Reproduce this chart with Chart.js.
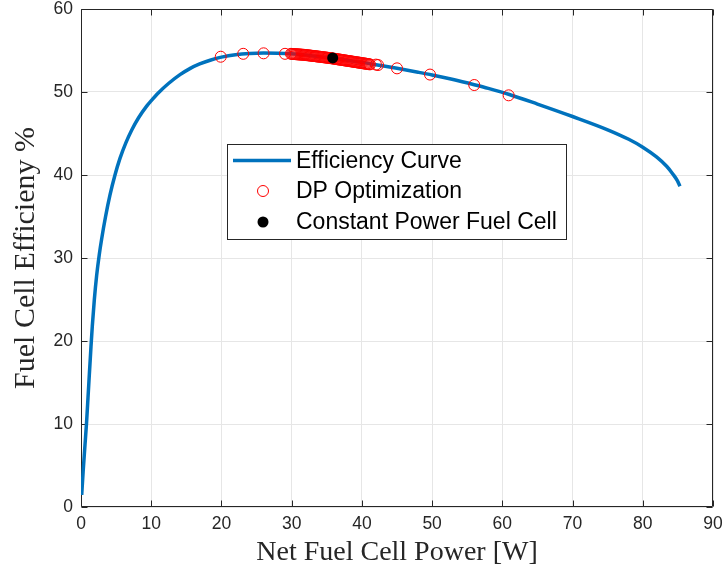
<!DOCTYPE html>
<html>
<head>
<meta charset="utf-8">
<script src="https://cdn.jsdelivr.net/npm/chart.js@4"></script>
<style>
  html, body { margin: 0; padding: 0; background: #ffffff; }
  #wrap { width: 726px; height: 575px; }
</style>
</head>
<body>
<div id="wrap"><canvas id="c" width="726" height="575"></canvas></div>
<script>
// Efficiency curve of the fuel cell: net power [W] vs efficiency [%]
const curvePower = [0.1, 0.3, 0.57, 0.8, 1.0, 1.19, 1.4, 1.61, 1.9, 2.23, 2.6, 2.94, 3.5, 4.13, 4.84, 5.55, 6.4, 7.21, 8.2, 9.35,
  10.0, 11.0, 12.5, 14.1, 15.5, 16.9, 18.5, 20, 22, 24, 26, 28, 30, 32, 34, 36, 38, 40, 42, 45,
  48, 50, 53, 56, 58, 61, 65, 70, 75, 78, 80, 82, 83.4, 84.3, 84.9, 85.3];
const curveEff = [1.45, 4.2, 7.5, 10.3, 13.2, 16.0, 19.0, 21.8, 25.0, 27.9, 30.4, 32.3, 35.0, 37.6, 40.0, 42.0, 43.9, 45.4, 46.9, 48.3,
  48.95, 49.88, 51.05, 52.09, 52.82, 53.38, 53.86, 54.2, 54.5, 54.65, 54.7, 54.68, 54.6, 54.45, 54.25, 54.05, 53.8, 53.57, 53.28, 52.85,
  52.38, 52.05, 51.5, 50.88, 50.44, 49.7, 48.55, 47.05, 45.45, 44.3, 43.35, 42.15, 41.05, 40.1, 39.35, 38.65];

// Operating points chosen by the DP optimization
const dpPower = [19.9, 23.1, 26.0, 29.05,
  29.9, 30.05, 30.2, 30.35, 30.5, 30.65, 30.8, 30.95, 31.1, 31.25, 31.4, 31.55, 31.7, 31.85, 32.0, 32.15,
  32.3, 32.45, 32.6, 32.75, 32.9, 33.05, 33.2, 33.35, 33.5, 33.65, 33.8, 33.95, 34.1, 34.25, 34.4, 34.55,
  34.7, 34.85, 35.0, 35.15, 35.3, 35.45, 35.6, 35.75, 35.9, 36.05, 36.2, 36.35, 36.5, 36.65, 36.8, 36.95,
  37.1, 37.25, 37.4, 37.55, 37.7, 37.85, 38.0, 38.15, 38.3, 38.45, 38.6, 38.75, 38.9, 39.05, 39.2, 39.35,
  39.5, 39.65, 39.8, 39.95, 40.1, 40.25, 40.4, 40.55, 40.7, 40.85, 41.0, 41.15,
  42.0, 42.3, 45.0, 49.7, 56.0, 60.9];
const dpEff = [54.25, 54.6, 54.66, 54.6,
  54.60, 54.59, 54.58, 54.57, 54.56, 54.55, 54.54, 54.53, 54.52, 54.51, 54.50, 54.49, 54.48, 54.47, 54.45, 54.44,
  54.42, 54.41, 54.39, 54.38, 54.36, 54.35, 54.33, 54.32, 54.30, 54.28, 54.27, 54.25, 54.24, 54.22, 54.20, 54.19,
  54.17, 54.15, 54.14, 54.12, 54.10, 54.08, 54.07, 54.05, 54.03, 54.01, 53.99, 53.97, 53.95, 53.93, 53.91, 53.89,
  53.87, 53.85, 53.83, 53.81, 53.79, 53.77, 53.75, 53.73, 53.71, 53.69, 53.67, 53.65, 53.63, 53.61, 53.59, 53.57,
  53.55, 53.53, 53.51, 53.49, 53.47, 53.45, 53.43, 53.41, 53.39, 53.37, 53.35, 53.33,
  53.3, 53.25, 52.85, 52.1, 50.84, 49.6];

// Constant power operating point
const cpPower = [35.84];
const cpEff = [54.1];

// Axis ticks
const xTicks = [0, 10, 20, 30, 40, 50, 60, 70, 80, 90];
const yTicks = [0, 10, 20, 30, 40, 50, 60];

const seriesNames = ['Efficiency Curve', 'DP Optimization', 'Constant Power Fuel Cell'];

const toPoints = (xs, ys) => xs.map((x, i) => ({ x: x, y: ys[i] }));

const AXIS_COLOR = '#262626';
const LINE_BLUE = '#0072BD';

// Axes box with inward tick marks on all four sides
const boxPlugin = {
  id: 'boxTicks',
  beforeDatasetsDraw(chart) {
    const { ctx, chartArea: a, scales } = chart;
    ctx.save();
    ctx.strokeStyle = AXIS_COLOR;
    ctx.lineWidth = 1;
    const L = Math.round(a.left) + 0.5, R = Math.round(a.right) - 0.5;
    const T = Math.round(a.top) + 0.5, B = Math.round(a.bottom) - 0.5;
    ctx.beginPath();
    ctx.rect(L, T, R - L, B - T);
    ctx.stroke();
    const len = 6;
    ctx.beginPath();
    xTicks.forEach(v => {
      const px = Math.round(scales.x.getPixelForValue(v)) + 0.5;
      ctx.moveTo(px, B); ctx.lineTo(px, B - len);
      ctx.moveTo(px, T); ctx.lineTo(px, T + len);
    });
    yTicks.forEach(v => {
      const py = Math.round(scales.y.getPixelForValue(v)) + 0.5;
      ctx.moveTo(L, py); ctx.lineTo(L + len, py);
      ctx.moveTo(R, py); ctx.lineTo(R - len, py);
    });
    ctx.stroke();
    ctx.restore();
  }
};

// Legend box placed inside the plot area
const legendPlugin = {
  id: 'innerLegend',
  afterDraw(chart) {
    const ctx = chart.ctx;
    const bx = 227.5, by = 144.5, bw = 339, bh = 95;
    ctx.save();
    ctx.fillStyle = '#ffffff';
    ctx.fillRect(bx, by, bw, bh);
    ctx.strokeStyle = AXIS_COLOR;
    ctx.lineWidth = 1;
    ctx.strokeRect(bx, by, bw, bh);

    const rows = [160.5, 191, 222];
    // line sample
    ctx.strokeStyle = LINE_BLUE;
    ctx.lineWidth = 3.5;
    ctx.beginPath();
    ctx.moveTo(233, rows[0]); ctx.lineTo(291, rows[0]);
    ctx.stroke();
    // open circle sample
    ctx.strokeStyle = '#ff0000';
    ctx.lineWidth = 1;
    ctx.beginPath();
    ctx.arc(263, rows[1], 5.5, 0, Math.PI * 2);
    ctx.stroke();
    // filled dot sample
    ctx.fillStyle = '#000000';
    ctx.beginPath();
    ctx.arc(263, rows[2], 5.5, 0, Math.PI * 2);
    ctx.fill();

    ctx.fillStyle = '#000000';
    ctx.font = '23px "Liberation Sans", Arial, sans-serif';
    ctx.textBaseline = 'middle';
    ctx.textAlign = 'left';
    seriesNames.forEach((name, i) => ctx.fillText(name, 296, rows[i] + 1));
    ctx.restore();
  }
};

// Tick-label overhang is already covered by the layout padding
const dropLabelPadding = s => {
  s.paddingTop = 0; s.paddingBottom = 0; s.paddingLeft = 0; s.paddingRight = 0;
};

new Chart(document.getElementById('c'), {
  type: 'line',
  data: {
    datasets: [
      {
        label: seriesNames[0],
        data: toPoints(curvePower, curveEff),
        borderColor: LINE_BLUE,
        borderWidth: 3.5,
        pointRadius: 0,
        fill: false,
        cubicInterpolationMode: 'monotone',
        order: 3
      },
      {
        label: seriesNames[1],
        data: toPoints(dpPower, dpEff),
        showLine: false,
        pointRadius: 5.5,
        pointBorderWidth: 1,
        pointBorderColor: '#ff0000',
        pointBackgroundColor: 'rgba(0,0,0,0)',
        order: 2
      },
      {
        label: seriesNames[2],
        data: toPoints(cpPower, cpEff),
        showLine: false,
        pointRadius: 5.5,
        pointBorderWidth: 0,
        pointBackgroundColor: '#000000',
        pointBorderColor: '#000000',
        order: 1
      }
    ]
  },
  options: {
    responsive: false,
    animation: false,
    events: [],
    layout: { padding: { left: 0, top: 9, right: 13, bottom: 0 } },
    plugins: { legend: { display: false }, tooltip: { enabled: false } },
    scales: {
      x: {
        type: 'linear',
        min: 0, max: 90,
        afterBuildTicks: s => { s.ticks = xTicks.map(v => ({ value: v })); },
        afterFit: s => { s.height = 68; dropLabelPadding(s); },
        grid: { color: '#e6e6e6', lineWidth: 1, drawTicks: false },
        border: { display: false },
        ticks: {
          color: AXIS_COLOR,
          padding: 8,
          font: { family: '"Liberation Sans", Arial, sans-serif', size: 17.5, lineHeight: 1 }
        },
        title: {
          display: true,
          text: 'Net Fuel Cell Power [W]',
          color: AXIS_COLOR,
          padding: { top: 0, bottom: 6 },
          font: { family: '"Liberation Serif", "Times New Roman", serif', size: 28, lineHeight: 1.2 }
        }
      },
      y: {
        type: 'linear',
        min: 0, max: 60,
        afterBuildTicks: s => { s.ticks = yTicks.map(v => ({ value: v })); },
        afterFit: s => { s.width = 81; dropLabelPadding(s); },
        grid: { color: '#e6e6e6', lineWidth: 1, drawTicks: false },
        border: { display: false },
        ticks: {
          color: AXIS_COLOR,
          padding: 8,
          font: { family: '"Liberation Sans", Arial, sans-serif', size: 17.5, lineHeight: 1 }
        },
        title: {
          display: true,
          text: 'Fuel Cell Efficieny %',
          color: AXIS_COLOR,
          padding: { top: 8, bottom: 0 },
          font: { family: '"Liberation Serif", "Times New Roman", serif', size: 30, lineHeight: 1.2 }
        }
      }
    }
  },
  plugins: [boxPlugin, legendPlugin]
});
</script>
</body>
</html>
